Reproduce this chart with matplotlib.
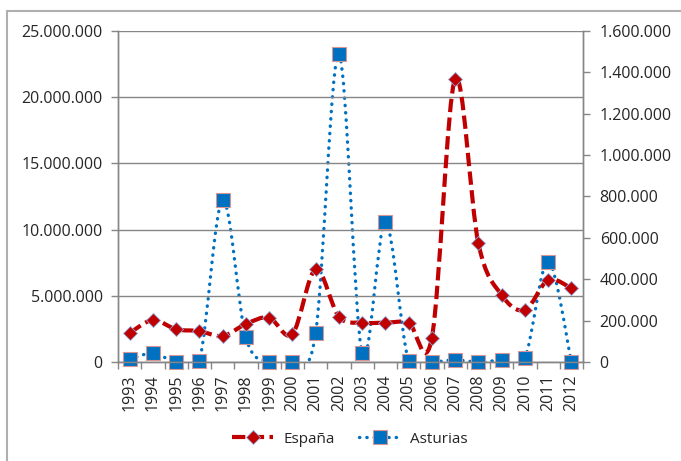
import matplotlib
matplotlib.use("Agg")
import matplotlib.pyplot as plt
import numpy as np
from matplotlib.path import Path
from matplotlib.patches import PathPatch, Rectangle
from matplotlib.lines import Line2D
from matplotlib.ticker import FuncFormatter, MultipleLocator

years = ["1993", "1994", "1995", "1996", "1997", "1998", "1999", "2000", "2001", "2002",
         "2003", "2004", "2005", "2006", "2007", "2008", "2009", "2010", "2011", "2012"]
espana = [2190000, 3170000, 2470000, 2340000, 1960000, 2870000, 3350000, 2110000, 7000000, 3420000,
          2970000, 2970000, 2970000, 1840000, 21400000, 8960000, 5060000, 3930000, 6190000, 5560000]
asturias = [13000, 42000, 0, 6000, 783000, 119000, 0, 0, 139000, 1487000,
            42000, 675000, 6000, 0, 10000, 0, 10000, 21000, 485000, 0]

plt.rcParams['font.family'] = ['Open Sans', 'DejaVu Sans']

red = '#C00000'
blue = '#0070C0'
grey = '#868686'
txt = '#262626'


def smooth_path(xs, ys):
    # excel-like smoothed line: cubic bezier through every point
    pts = np.column_stack([xs, ys]).astype(float)
    n = len(pts)
    verts = [pts[0]]
    codes = [Path.MOVETO]
    for i in range(n - 1):
        p0 = pts[i - 1] if i > 0 else pts[i]
        p1 = pts[i]
        p2 = pts[i + 1]
        p3 = pts[i + 2] if i + 2 < n else pts[i + 1]
        verts += [p1 + (p2 - p0) / 6, p2 - (p3 - p1) / 6, p2]
        codes += [Path.CURVE4] * 3
    return Path(verts, codes)


def dots(v, pos):
    return f"{int(round(v)):,}".replace(",", ".")


fig = plt.figure(figsize=(6.81, 4.61), dpi=100)
fig.patches.append(Rectangle((7 / 681, -0.1), 1.2, 1 - 11 / 461 + 0.1, transform=fig.transFigure,
                             fill=False, edgecolor='#AFAFAF', linewidth=1.5))

ax = fig.add_axes([118 / 681, 1 - 362 / 461, (583 - 118) / 681, (362 - 31) / 461])
ax2 = ax.twinx()
ax.set_zorder(ax2.get_zorder() + 1)
ax.patch.set_visible(False)

x = np.arange(len(years))

# Asturias on secondary axis
ax2.add_patch(PathPatch(smooth_path(x, asturias), fill=False, edgecolor=blue, linewidth=2.4,
                        linestyle=(0, (0.1, 2.1)), capstyle='round'))
ax2.plot(x, asturias, linestyle='none', marker='s', markersize=10.5, color=blue,
         markeredgecolor='#D99594', markeredgewidth=0.8, clip_on=False, zorder=3)

# España on primary axis
ax.add_patch(PathPatch(smooth_path(x, espana), fill=False, edgecolor=red, linewidth=3,
                       linestyle=(0, (3.2, 1.3)), capstyle='butt'))
ax.plot(x, espana, linestyle='none', marker='D', markersize=7.5, color=red,
        markeredgecolor='#8FA8D8', markeredgewidth=0.6, clip_on=False, zorder=3)

ax.set_xlim(-0.5, len(years) - 0.5)
ax.set_ylim(0, 25000000)
ax2.set_ylim(0, 1600000)

ax.yaxis.set_major_locator(MultipleLocator(5000000))
ax2.yaxis.set_major_locator(MultipleLocator(200000))
ax.yaxis.set_major_formatter(FuncFormatter(dots))
ax2.yaxis.set_major_formatter(FuncFormatter(dots))

ax.set_xticks(x)
ax.set_xticklabels(years, rotation=90)
ax.set_xticks(np.arange(-0.5, len(years)), minor=True)
ax.tick_params(axis='x', which='major', length=0, pad=9, labelsize=11.5, labelcolor=txt)
ax.tick_params(axis='x', which='minor', length=5, width=1, color=grey, direction='out')
ax.tick_params(axis='y', length=5, width=1, color=grey, pad=6, labelsize=11.5, labelcolor=txt)
ax2.tick_params(axis='y', length=5, width=1, color=grey, pad=7, labelsize=11.5, labelcolor=txt)

ax.grid(axis='y', color=grey, linewidth=1)
ax.set_axisbelow(True)

for a in (ax, ax2):
    a.spines['top'].set_visible(False)
    for s in ('left', 'right', 'bottom'):
        a.spines[s].set_color(grey)
        a.spines[s].set_linewidth(1)

handles = [
    Line2D([], [], color=red, linewidth=3, linestyle=(0, (3.2, 1.3)), marker='D', markersize=7.5,
           markeredgecolor='#8FA8D8', markeredgewidth=0.6),
    Line2D([], [], color=blue, linewidth=2.4, linestyle=(0, (0.1, 2.1)), dash_capstyle='round',
           marker='s', markersize=10.5, markeredgecolor='#D99594', markeredgewidth=0.8),
]
fig.legend(handles, ["España", "Asturias"], loc='center', bbox_to_anchor=(350 / 681, 1 - 439 / 461),
           ncol=2, frameon=False, fontsize=11, handlelength=2.7, handletextpad=0.65,
           columnspacing=1.6, labelcolor=txt)

fig.savefig("out.png", dpi=100)
